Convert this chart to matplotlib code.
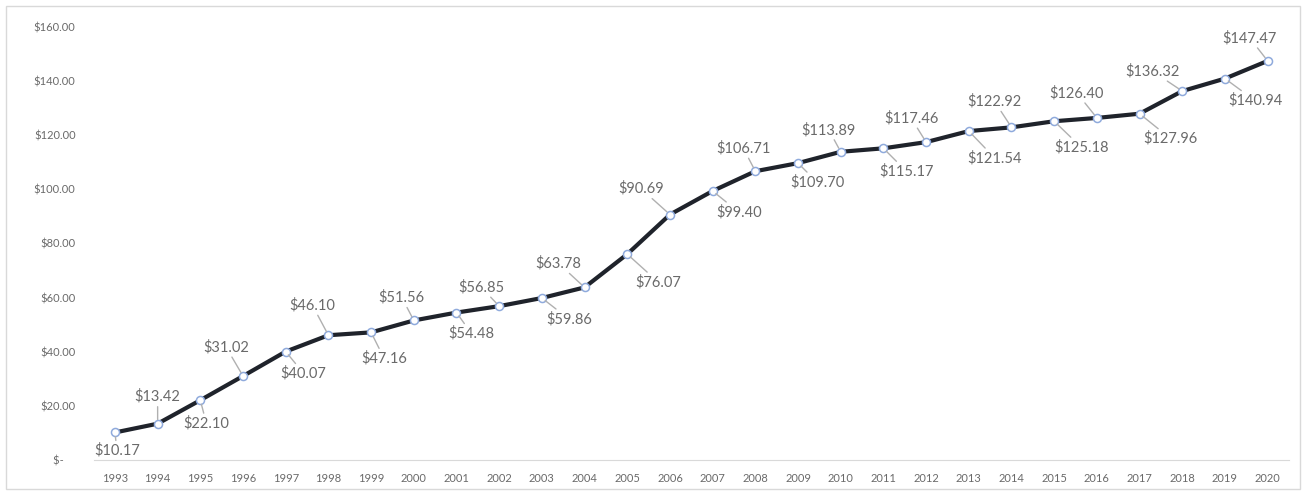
import matplotlib
matplotlib.use("Agg")
import matplotlib.pyplot as plt
from matplotlib.patches import Rectangle
from matplotlib.ticker import FuncFormatter

# data
years = list(range(1993, 2021))
values = [10.17, 13.42, 22.10, 31.02, 40.07, 46.10, 47.16, 51.56, 54.48, 56.85,
          59.86, 63.78, 76.07, 90.69, 99.40, 106.71, 109.70, 113.89, 115.17, 117.46,
          121.54, 122.92, 125.18, 126.40, 127.96, 136.32, 140.94, 147.47]
y_ticks = [0, 20, 40, 60, 80, 100, 120, 140, 160]

# label offsets from each point, in pixels (dx right, dy up)
label_offsets = [(2, -18), (0, 27), (6, -23), (-17, 29), (18, -22), (-16, 30),
                 (13, -26), (-12, 23), (15, -21), (-18, 19), (27, -21), (-26, 24),
                 (31, -28), (-29, 26), (26, -21), (-12, 23), (19, -19), (-12, 22),
                 (23, -23), (-15, 24), (26, -27), (-17, 26), (27, -26), (-20, 25),
                 (31, -25), (-30, 20), (30, -22), (-18, 23)]

plt.rcParams['font.family'] = ['Lato', 'DejaVu Sans']

W, H = 1307, 495
fig = plt.figure(figsize=(W / 100, H / 100), dpi=100)
ax = fig.add_axes([93.6 / W, (H - 460) / H, (1289 - 93.6) / W, (460 - 27) / H])

x = list(range(len(years)))
ax.plot(x, values, color='#1f232b', lw=3, marker='o', markersize=5.8,
        markerfacecolor='white', markeredgecolor='#8faadc', markeredgewidth=1.1,
        zorder=3)

for xi, v, (dx, dy) in zip(x, values, label_offsets):
    ax.annotate(f'${v:.2f}', xy=(xi, v), xytext=(dx, dy),
                textcoords='offset pixels', ha='center', va='center',
                fontsize=10.5, color='#6a6a6a', zorder=4,
                arrowprops=dict(arrowstyle='-', color='#b0b0b0', lw=1,
                                shrinkA=0, shrinkB=3))

ax.set_xlim(-0.5, len(years) - 0.5)
ax.set_ylim(0, 160)
ax.set_xticks(x)
ax.set_xticklabels([str(y) for y in years])
ax.set_yticks(y_ticks)
ax.yaxis.set_major_formatter(FuncFormatter(
    lambda v, p: '$-    ' if v == 0 else f'${v:,.2f}'))

for s in ['top', 'right', 'left']:
    ax.spines[s].set_visible(False)
ax.spines['bottom'].set_color('#d9d9d9')
ax.tick_params(axis='both', length=0, labelsize=8, labelcolor='#6a6a6a')
ax.tick_params(axis='x', pad=9)
ax.tick_params(axis='y', pad=13)

# outer chart border
fig.patches.append(Rectangle((6 / W, 6 / H), (1300 - 6) / W, (489 - 6) / H,
                             transform=fig.transFigure, fill=False,
                             edgecolor='#d9d9d9', lw=1))

fig.savefig('out.png', dpi=100, facecolor='white')
